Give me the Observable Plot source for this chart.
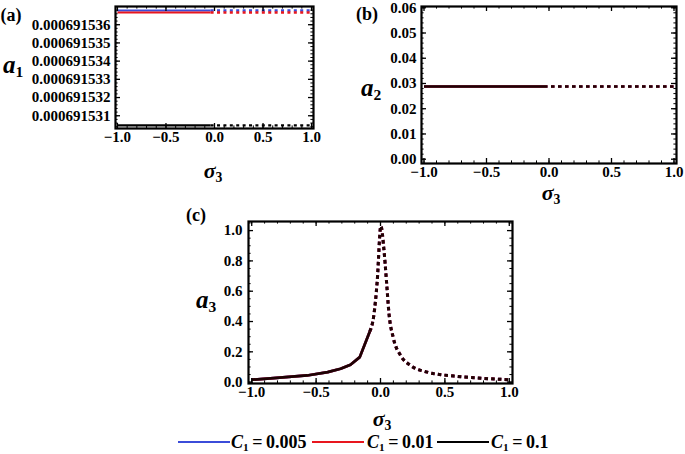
<!DOCTYPE html>
<html><head><meta charset="utf-8">
<script src="https://cdn.jsdelivr.net/npm/d3@7"></script>
<script src="https://cdn.jsdelivr.net/npm/@observablehq/plot@0.6"></script>
<style>
body{margin:0;background:#fff;}
#wrap{position:relative;width:685px;height:454px;overflow:hidden;background:#fff;font-family:"Liberation Serif","Times New Roman",serif;font-weight:bold;color:#000;}
#wrap svg{position:absolute;overflow:visible;}
.t{position:absolute;white-space:nowrap;line-height:1;transform:translate(-50%,-50%);}
.l{position:absolute;white-space:nowrap;line-height:1;transform:translate(0,-50%);}
.t i,.l i{font-style:italic;}
.t sub,.l sub{font-size:0.62em;vertical-align:baseline;position:relative;top:0.28em;font-style:normal;}
.sw{position:absolute;height:2.4px;}
</style></head><body><div id="wrap"></div>
<script>
// ---------- data ----------
const C1Labels = ["0.005", "0.01", "0.1"];
const C1Colors = ["#3b4cd9", "#e8161e", "#000000"];

const xTickValues = [-1, -0.5, 0, 0.5, 1];

// panel (a): a1 vs sigma3 (flat)
const sigmaA = [-1, -0.04, 1];
const a1_C005 = [0.00069153678, 0.00069153678, 0.00069153678];
const a1_C01  = [0.00069153667, 0.00069153667, 0.00069153667];
const a1_C1   = [0.00069153047, 0.00069153047, 0.00069153047];
const a1Ticks = [0.000691531, 0.000691532, 0.000691533, 0.000691534, 0.000691535, 0.000691536];
const splitA = -0.04;

// panel (b): a2 vs sigma3 (flat)
const sigmaB = [-1, -0.04, 1];
const a2_C005 = [0.0288, 0.0288, 0.0288];
const a2_C01  = [0.0288, 0.0288, 0.0288];
const a2_C1   = [0.0288, 0.0288, 0.0288];
const a2Ticks = [0, 0.01, 0.02, 0.03, 0.04, 0.05, 0.06];
const splitB = -0.04;

// panel (c): a3 vs sigma3
const sigmaC = [-1, -0.83, -0.57, -0.41, -0.31, -0.233, -0.161, -0.083, -0.052, -0.026, 0.003, 0.026, 0.047, 0.065, 0.10, 0.156, 0.233, 0.363, 0.57, 0.78, 1.0];
const a3_C005 = [0.016, 0.026, 0.044, 0.066, 0.088, 0.115, 0.165, 0.334, 0.44, 0.66, 1.03, 0.88, 0.66, 0.46, 0.29, 0.176, 0.11, 0.066, 0.04, 0.026, 0.016];
const a3_C01  = [0.016, 0.026, 0.044, 0.066, 0.088, 0.115, 0.165, 0.334, 0.44, 0.66, 1.03, 0.88, 0.66, 0.46, 0.29, 0.176, 0.11, 0.066, 0.04, 0.026, 0.016];
const a3_C1   = [0.016, 0.026, 0.044, 0.066, 0.088, 0.115, 0.165, 0.334, 0.44, 0.66, 1.03, 0.88, 0.66, 0.46, 0.29, 0.176, 0.11, 0.066, 0.04, 0.026, 0.016];
const a3Ticks = [0, 0.2, 0.4, 0.6, 0.8, 1.0];
const splitC = -0.083;

// ---------- drawing ----------
const wrap = document.getElementById("wrap");
const fmtX = d => d.toFixed(1).replace("-", "\u2212");

function makePanel(o) {
  const H = o.height - o.mt - o.mb, W = o.width - o.ml - o.mr;
  const marks = [];
  o.series.forEach((s, k) => {
    const rows = s.x.map((x, i) => ({x, y: s.y[i]}));
    const op = k === 2 ? (o.blackOpacity ?? 1) : 1;
    marks.push(Plot.line(rows.filter(d => d.x <= o.split), {x: "x", y: "y", stroke: C1Colors[k], strokeWidth: o.lw, strokeOpacity: op, strokeLinecap: "butt", strokeLinejoin: "round"}));
    marks.push(Plot.line(rows.filter(d => d.x >= o.split), {x: "x", y: "y", stroke: C1Colors[k], strokeWidth: o.lwDot, strokeOpacity: op, strokeDasharray: o.dash, strokeLinecap: "butt", curve: o.curveDot || "linear"}));
  });
  const xMinor = d3.range(-10, 11).map(i => i / 10);
  const maj = 5, mnr = 2.6;
  marks.push(Plot.tickX(xMinor, {x: d => d, insetTop: H - mnr, stroke: "black"}));
  marks.push(Plot.tickX(xMinor, {x: d => d, insetBottom: H - mnr, stroke: "black"}));
  marks.push(Plot.tickX(xTickValues, {x: d => d, insetTop: H - maj, stroke: "black", strokeWidth: 1.3}));
  marks.push(Plot.tickX(xTickValues, {x: d => d, insetBottom: H - maj, stroke: "black", strokeWidth: 1.3}));
  marks.push(Plot.tickY(o.yMinor, {y: d => d, insetRight: W - mnr, stroke: "black"}));
  marks.push(Plot.tickY(o.yMinor, {y: d => d, insetLeft: W - mnr, stroke: "black"}));
  marks.push(Plot.tickY(o.yTicks, {y: d => d, insetRight: W - maj, stroke: "black", strokeWidth: 1.3}));
  marks.push(Plot.tickY(o.yTicks, {y: d => d, insetLeft: W - maj, stroke: "black", strokeWidth: 1.3}));
  marks.push(Plot.frame({stroke: "black", strokeWidth: 2.2}));
  marks.push(Plot.axisX({ticks: xTickValues, tickSize: 0, tickPadding: o.xPad, tickFormat: fmtX, label: null}));
  marks.push(Plot.axisY({ticks: o.yTicks, tickSize: 0, tickPadding: o.yPad ?? 5, tickFormat: o.yFormat, label: null}));
  const svg = Plot.plot({
    width: o.width, height: o.height,
    marginLeft: o.ml, marginRight: o.mr, marginTop: o.mt, marginBottom: o.mb,
    x: {domain: o.xDomain}, y: {domain: o.yDomain},
    style: {fontFamily: '"Liberation Serif", "Times New Roman", serif', fontSize: "15px", fontWeight: "bold", color: "black", background: "transparent", overflow: "visible"},
    marks
  });
  svg.style.left = o.left + "px";
  svg.style.top = o.top + "px";
  wrap.appendChild(svg);
}

makePanel({
  left: 0, top: 0, width: 320, height: 160, ml: 115, mr: 7, mt: 6, mb: 32,
  xDomain: [-1.02, 1.02], yDomain: [0.0006915303, 0.000691537],
  yTicks: a1Ticks, yMinor: d3.range(0, 34).map(i => 0.0006915304 + i * 2e-10),
  yFormat: d => d.toFixed(9),
  series: [{x: sigmaA, y: a1_C005}, {x: sigmaA, y: a1_C01}, {x: sigmaA, y: a1_C1}],
  split: splitA, lw: 2.2, lwDot: 2.4, dash: "3,3.4", xPad: 3
});

makePanel({
  left: 330, top: 0, width: 355, height: 200, ml: 91, mr: 9, mt: 6, mb: 37,
  xDomain: [-1.02, 1.02], yDomain: [-0.0017, 0.0605],
  yTicks: a2Ticks, yMinor: d3.range(0, 31).map(i => i * 0.002),
  yFormat: d => d.toFixed(2),
  series: [{x: sigmaB, y: a2_C005}, {x: sigmaB, y: a2_C01}, {x: sigmaB, y: a2_C1}],
  split: splitB, lw: 2.5, lwDot: 2.7, dash: "3.5,3.5", xPad: 3, blackOpacity: 0.88
});

makePanel({
  left: 150, top: 200, width: 370, height: 205, ml: 98, mr: 8, mt: 21, mb: 22,
  xDomain: [-1.025, 1.025], yDomain: [-0.009, 1.06],
  yTicks: a3Ticks, yMinor: d3.range(0, 22).map(i => i * 0.05),
  yFormat: d => d.toFixed(1),
  series: [{x: sigmaC, y: a3_C005}, {x: sigmaC, y: a3_C01}, {x: sigmaC, y: a3_C1}],
  split: splitC, lw: 2.7, lwDot: 3, dash: "3.5,3.2", xPad: 3, yPad: 6, curveDot: "monotone-x", blackOpacity: 0.88
});

// ---------- text labels ----------
function txt(html, x, y, size, cls = "t") {
  const d = document.createElement("div");
  d.className = cls;
  d.style.left = x + "px"; d.style.top = y + "px"; d.style.fontSize = size + "px";
  d.innerHTML = html;
  wrap.appendChild(d);
  return d;
}
txt("(a)", 11, 15, 18);
txt("(b)", 367, 14, 18);
txt("(c)", 196, 215, 18);
txt("<i>a</i><sub>1</sub>", 13, 64, 25);
txt("<i>a</i><sub>2</sub>", 371, 87, 25);
txt("<i>a</i><sub>3</sub>", 206, 299, 25);
txt("<i>\u03c3</i><sub>3</sub>", 213, 171, 22);
txt("<i>\u03c3</i><sub>3</sub>", 551, 193, 22);
txt("<i>\u03c3</i><sub>3</sub>", 382, 419, 22);

// ---------- legend ----------
const legendX = [178, 312, 437];
const legendTextX = [231, 367, 491];
C1Labels.forEach((lab, k) => {
  const sw = document.createElement("div");
  sw.className = "sw";
  sw.style.left = legendX[k] + "px"; sw.style.top = "440.8px";
  sw.style.width = "52px"; sw.style.background = C1Colors[k];
  wrap.appendChild(sw);
  txt("<i>C</i><sub>1</sub>\u2009=\u2009" + lab, legendTextX[k], 442, 18, "l");
});
</script>
</body></html>
